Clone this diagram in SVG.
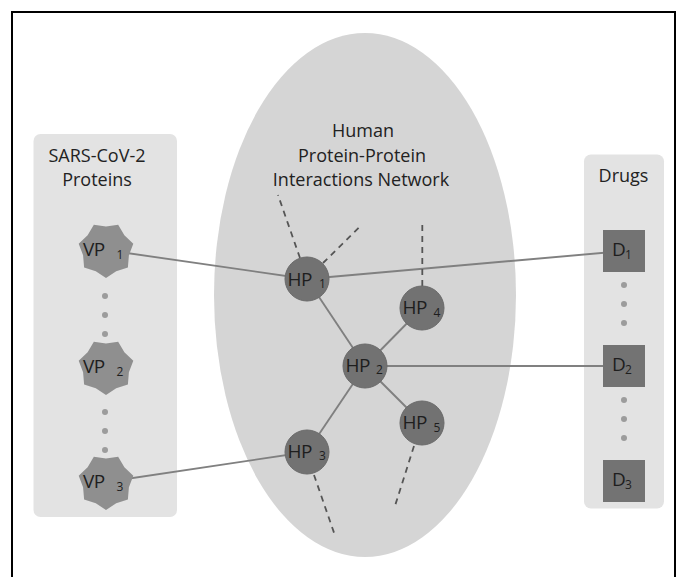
<svg xmlns="http://www.w3.org/2000/svg" width="676" height="577" viewBox="0 0 676 577">
<style>
.lbl{font-family:"Open Sans","Noto Sans",sans-serif;font-size:18px;fill:#222;text-anchor:middle}
.nl{font-family:"Open Sans","Noto Sans",sans-serif;font-size:19px;fill:#1e1e1e;letter-spacing:-0.6px}
.sub{font-family:"Open Sans","Noto Sans",sans-serif;font-size:12px;fill:#1e1e1e}
.panel{fill:#e3e3e3}
.hp{fill:#727272;stroke:#6a6a6a;stroke-width:1}
.vp{fill:#8f8f8f}
.dr{fill:#737373}
.dot{fill:#9c9c9c}
.edge{stroke:#808080;stroke-width:1.9;fill:none}
.dash{stroke:#555;stroke-width:1.8;stroke-dasharray:6 5;fill:none}
</style>
<defs>
<polygon id="star" points="0,28 -10.2,21.17 -21.89,17.46 -22.91,5.23 -27.3,-6.23 -18.37,-14.65 -12.15,-25.23 0,-23.5 12.15,-25.23 18.37,-14.65 27.3,-6.23 22.91,5.23 21.89,17.46 10.2,21.17"/>
</defs>
<rect width="676" height="577" fill="#fff"/>
<path d="M12,577 V12 H675 V577" fill="none" stroke="#000" stroke-width="2"/>
<g id="panel-sars">
<rect class="panel" x="33.5" y="134" width="143.5" height="383" rx="7"/>
<text class="lbl" x="97" y="162">SARS-CoV-2</text>
<text class="lbl" x="97" y="185.5">Proteins</text>
</g>
<g id="panel-network">
<ellipse cx="365" cy="295" rx="151" ry="262" fill="#d5d5d5"/>
<text class="lbl" x="363" y="137">Human</text>
<text class="lbl" x="362" y="161.5">Protein-Protein</text>
<text class="lbl" x="361" y="186">Interactions Network</text>
</g>
<g id="panel-drugs">
<rect class="panel" x="584" y="154.5" width="80" height="354" rx="7"/>
<text class="lbl" x="623.5" y="182">Drugs</text>
</g>
<g id="connectors">
<line class="edge" x1="106" y1="250" x2="307" y2="279"/>
<line class="edge" x1="106" y1="482" x2="307" y2="452"/>
<line class="edge" x1="307" y1="279" x2="624" y2="251"/>
<line class="edge" x1="365" y1="366" x2="624" y2="366"/>
<line class="edge" x1="307" y1="279" x2="365" y2="366"/>
<line class="edge" x1="365" y1="366" x2="422" y2="308"/>
<line class="edge" x1="365" y1="366" x2="307" y2="452"/>
<line class="edge" x1="365" y1="366" x2="422" y2="423"/>
<line class="dash" x1="300" y1="258" x2="278" y2="195"/>
<line class="dash" x1="323" y1="263" x2="361.5" y2="225"/>
<line class="dash" x1="422.3" y1="286" x2="422.3" y2="221"/>
<line class="dash" x1="314" y1="475" x2="335.5" y2="537"/>
<line class="dash" x1="414" y1="446" x2="394" y2="509"/>
</g>
<g id="dots">
<circle class="dot" cx="105" cy="296" r="3"/>
<circle class="dot" cx="105" cy="315" r="3"/>
<circle class="dot" cx="105" cy="334" r="3"/>
<circle class="dot" cx="105" cy="412" r="3"/>
<circle class="dot" cx="105" cy="431" r="3"/>
<circle class="dot" cx="105" cy="450" r="3"/>
<circle class="dot" cx="624" cy="285" r="3"/>
<circle class="dot" cx="624" cy="304" r="3"/>
<circle class="dot" cx="624" cy="323" r="3"/>
<circle class="dot" cx="624" cy="400" r="3"/>
<circle class="dot" cx="624" cy="419" r="3"/>
<circle class="dot" cx="624" cy="438" r="3"/>
</g>
<g id="VP1"><use href="#star" class="vp" x="106" y="250"/><text class="nl" x="83" y="255.5">VP</text><text class="sub" x="116.5" y="258.5">1</text></g>
<g id="VP2"><use href="#star" class="vp" x="106" y="367"/><text class="nl" x="83" y="372.5">VP</text><text class="sub" x="116.5" y="375.5">2</text></g>
<g id="VP3"><use href="#star" class="vp" x="106" y="482"/><text class="nl" x="83" y="487.5">VP</text><text class="sub" x="116.5" y="490.5">3</text></g>
<g id="HP1"><circle class="hp" cx="307" cy="279" r="22"/><text class="nl" x="287.5" y="285.5">HP</text><text class="sub" x="319" y="287.5">1</text></g>
<g id="HP2"><circle class="hp" cx="365" cy="366" r="22"/><text class="nl" x="345.5" y="371.5">HP</text><text class="sub" x="376" y="374">2</text></g>
<g id="HP3"><circle class="hp" cx="307" cy="452" r="22"/><text class="nl" x="287.5" y="458">HP</text><text class="sub" x="319" y="460">3</text></g>
<g id="HP4"><circle class="hp" cx="422" cy="308" r="22"/><text class="nl" x="402.5" y="314">HP</text><text class="sub" x="433.5" y="316.5">4</text></g>
<g id="HP5"><circle class="hp" cx="422" cy="423" r="22"/><text class="nl" x="402.5" y="429">HP</text><text class="sub" x="433.5" y="431.5">5</text></g>
<g id="D1"><rect class="dr" x="603" y="230" width="42" height="42"/><text class="nl" x="612" y="256">D</text><text class="sub" x="625" y="258.5">1</text></g>
<g id="D2"><rect class="dr" x="603" y="345" width="42" height="42"/><text class="nl" x="612" y="371">D</text><text class="sub" x="625" y="373.5">2</text></g>
<g id="D3"><rect class="dr" x="603" y="460" width="42" height="42"/><text class="nl" x="612" y="486">D</text><text class="sub" x="625" y="488.5">3</text></g>
</svg>
